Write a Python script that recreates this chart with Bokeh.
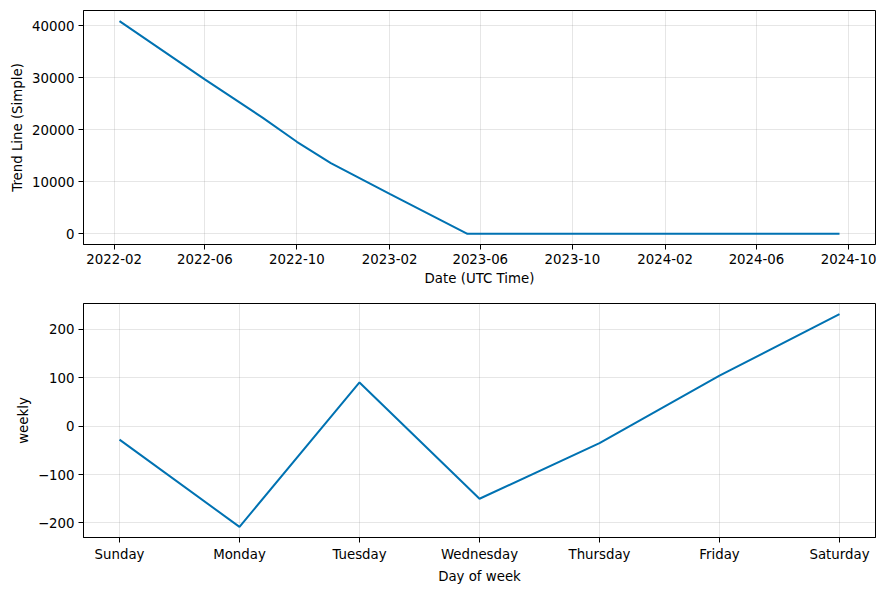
import pandas as pd
from bokeh.plotting import figure
from bokeh.layouts import column
from bokeh.models import FixedTicker, DatetimeTickFormatter, Range1d
from bokeh.embed import file_html
from bokeh.resources import INLINE

# ---- data ----
trend_dates = ["2022-02-08", "2022-06-01", "2022-08-17", "2022-10-01", "2022-11-15",
               "2023-02-01", "2023-05-15", "2024-09-19"]
trend_values = [40900, 29700, 22300, 17700, 13600, 7700, 0, 0]
date_ticks = ["2022-02-01", "2022-06-01", "2022-10-01", "2023-02-01", "2023-06-01",
              "2023-10-01", "2024-02-01", "2024-06-01", "2024-10-01"]
trend_yticks = [0, 10000, 20000, 30000, 40000]

days = ["Sunday", "Monday", "Tuesday", "Wednesday", "Thursday", "Friday", "Saturday"]
weekly = [-28, -208, 90, -150, -35, 104, 231]
weekly_yticks = [-200, -100, 0, 100, 200]

LINE = "#0072B2"
FONT = "DejaVu Sans"
FS = "13.33px"


def style(p):
    p.background_fill_color = "white"
    p.border_fill_color = "white"
    p.outline_line_color = "black"
    p.outline_line_width = 1
    p.outline_line_alpha = 1
    for ax in (p.xaxis[0], p.yaxis[0]):
        ax.axis_line_color = "black"
        ax.major_tick_line_color = "black"
        ax.major_tick_out = 5
        ax.major_tick_in = 0
        ax.minor_tick_out = 0
        ax.minor_tick_in = 0
        ax.major_label_text_font = FONT
        ax.major_label_text_font_size = FS
        ax.major_label_text_color = "black"
        ax.axis_label_text_font = FONT
        ax.axis_label_text_font_size = FS
        ax.axis_label_text_font_style = "normal"
        ax.axis_label_text_color = "black"
        ax.major_label_standoff = 4
        ax.axis_label_standoff = 4
    for g in (p.xgrid[0], p.ygrid[0]):
        g.grid_line_color = "gray"
        g.grid_line_alpha = 0.2
        g.grid_line_width = 1


# ---- top: trend ----
td = pd.to_datetime(trend_dates)
tick_ms = [pd.Timestamp(d).value / 1e6 for d in date_ticks]
xs = td.values.astype("datetime64[ms]").astype("int64")
span = xs.max() - xs.min()
p1 = figure(width=886, height=295, x_axis_type="datetime", output_backend="svg",
            toolbar_location=None,
            x_range=Range1d(xs.min() - 0.05 * span, xs.max() + 0.05 * span),
            y_range=Range1d(-0.05 * max(trend_values), 1.05 * max(trend_values)),
            min_border_left=83, min_border_right=11, min_border_top=10, min_border_bottom=51)
p1.line(x=td, y=trend_values, line_color=LINE, line_width=2)
p1.xaxis.ticker = FixedTicker(ticks=tick_ms)
fmt = "%Y-%m"
p1.xaxis.formatter = DatetimeTickFormatter(years=fmt, months=fmt, days=fmt, hours=fmt,
                                           minutes=fmt, seconds=fmt, milliseconds=fmt,
                                           microseconds=fmt, hourmin=fmt, minsec=fmt)
p1.yaxis.ticker = FixedTicker(ticks=trend_yticks)
p1.xaxis.axis_label = "Date (UTC Time)"
p1.yaxis.axis_label = "Trend Line (Simple)"
style(p1)

# ---- bottom: weekly ----
xi = list(range(len(days)))
wmin, wmax = min(weekly), max(weekly)
wr = wmax - wmin
p2 = figure(width=886, height=295, output_backend="svg", toolbar_location=None,
            x_range=Range1d(-0.3, len(days) - 1 + 0.3),
            y_range=Range1d(wmin - 0.05 * wr, wmax + 0.05 * wr),
            min_border_left=83, min_border_right=11, min_border_top=8, min_border_bottom=53)
p2.line(x=xi, y=weekly, line_color=LINE, line_width=2)
p2.xaxis.ticker = FixedTicker(ticks=xi)
p2.xaxis.major_label_overrides = {i: d for i, d in enumerate(days)}
p2.yaxis.ticker = FixedTicker(ticks=weekly_yticks)
p2.xaxis.axis_label = "Day of week"
p2.yaxis.axis_label = "weekly"
style(p2)

layout = column(p1, p2, spacing=0)
open("out.html", "w").write(file_html(layout, INLINE))
